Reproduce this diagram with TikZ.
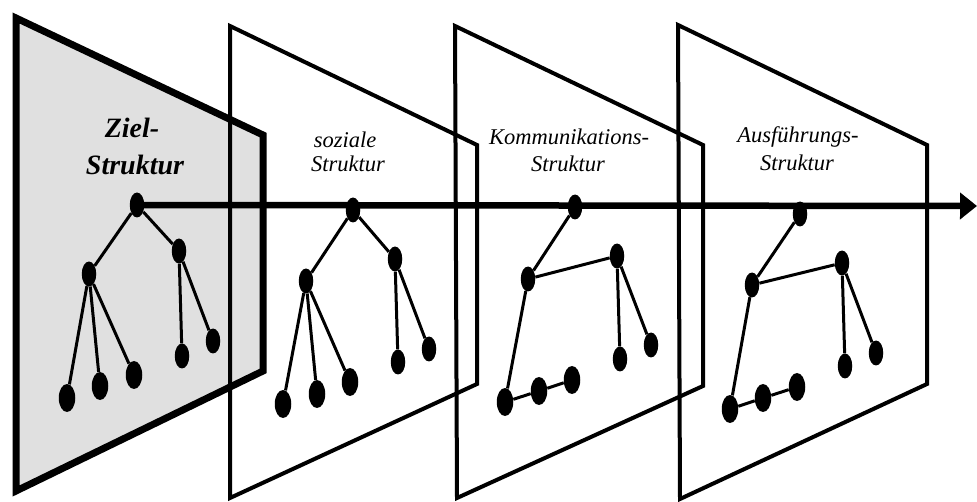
\documentclass[tikz,border=0pt]{standalone}
\usepackage{fontspec}
\setmainfont{Liberation Serif}
\usetikzlibrary{shapes.geometric,arrows.meta}
\definecolor{panelgray}{RGB}{224,224,224}
\tikzset{
  panelthick/.style={draw=black,fill=panelgray,line width=7pt,line join=miter},
  panelthin/.style={draw=black,line width=4pt,line join=miter},
  dot/.style={ellipse,fill=black,inner sep=0pt,minimum width=14.5pt,minimum height=25pt},
  bigdot/.style={ellipse,fill=black,inner sep=0pt,minimum width=16.5pt,minimum height=28pt},
  edge/.style={draw=black,line width=3pt},
  lblbold/.style={font=\fontsize{28}{33}\selectfont\bfseries\itshape,anchor=base,inner sep=0pt},
  lbl/.style={font=\fontsize{22.5}{27}\selectfont\itshape,anchor=base,inner sep=0pt},
  axis/.style={draw=black,line width=6.5pt,-{Triangle[length=17pt,width=26pt]}}
}
\begin{document}
\begin{tikzpicture}[x=1pt,y=-1pt]
\useasboundingbox (0,0) rectangle (977,502);
% panel 1
\draw[panelthick] (16,18) -- (263,135) -- (263,371) -- (16,491) -- cycle;
\node[lblbold] (t1a) at (132,138) {Ziel-};
\node[lblbold] (t1b) at (135,175) {Struktur};
\node[dot] (r1) at (137,205) {};
\node[dot] (a1) at (179,251) {};
\node[dot] (b1) at (89,274) {};
\node[bigdot] (c1) at (67,398) {};
\node[bigdot] (d1) at (100,386) {};
\node[bigdot] (e1) at (134,375) {};
\node[dot] (f1) at (182,356) {};
\node[dot] (g1) at (213,341) {};
\path[edge] (r1) -- (b1) (r1) -- (a1) (b1) -- (c1) (b1) -- (d1) (b1) -- (e1) (a1) -- (f1) (a1) -- (g1);
% panel 2
\draw[panelthin] (230,26) -- (477,145) -- (477,384) -- (230,498) -- cycle;
\node[lbl] (t2a) at (345,148) {soziale};
\node[lbl] (t2b) at (348,172) {Struktur};
\node[dot] (r2) at (353,210) {};
\node[dot] (a2) at (395,259) {};
\node[dot] (b2) at (306,281) {};
\node[bigdot] (c2) at (283,404) {};
\node[bigdot] (d2) at (317,394) {};
\node[bigdot] (e2) at (350,382) {};
\node[dot] (f2) at (398,362) {};
\node[dot] (g2) at (429,349) {};
\path[edge] (r2) -- (b2) (r2) -- (a2) (b2) -- (c2) (b2) -- (d2) (b2) -- (e2) (a2) -- (f2) (a2) -- (g2);
% panel 3
\draw[panelthin] (455,26) -- (703,145) -- (703,386) -- (457,498) -- cycle;
\node[lbl] (t3a) at (569,145) {Kommunikations-};
\node[lbl] (t3b) at (568,172) {Struktur};
\node[dot] (r3) at (575,207) {};
\node[dot] (a3) at (617,256) {};
\node[dot] (b3) at (528,279) {};
\node[bigdot] (c3) at (505,402) {};
\node[bigdot] (d3) at (539,391) {};
\node[bigdot] (e3) at (572,380) {};
\node[dot] (f3) at (620,359) {};
\node[dot] (g3) at (651,345) {};
\path[edge] (r3) -- (b3) (b3) -- (a3) (a3) -- (f3) (a3) -- (g3) (b3) -- (c3) (c3) -- (d3) (d3) -- (e3);
% panel 4
\draw[panelthin] (678,25) -- (927,145) -- (927,384) -- (680,499) -- cycle;
\node[lbl] (t4a) at (798,143) {Ausführungs-};
\node[lbl] (t4b) at (797,171) {Struktur};
\node[dot] (r4) at (800,214) {};
\node[dot] (a4) at (842,263) {};
\node[dot] (b4) at (752,285) {};
\node[bigdot] (c4) at (730,409) {};
\node[bigdot] (d4) at (763,398) {};
\node[bigdot] (e4) at (797,387) {};
\node[dot] (f4) at (845,366) {};
\node[dot] (g4) at (876,353) {};
\path[edge] (r4) -- (b4) (b4) -- (a4) (a4) -- (f4) (a4) -- (g4) (b4) -- (c4) (c4) -- (d4) (d4) -- (e4);
% axis
\coordinate (tip) at (977,206);
\draw[axis] (r1.center) -- (tip);
\end{tikzpicture}
\end{document}
